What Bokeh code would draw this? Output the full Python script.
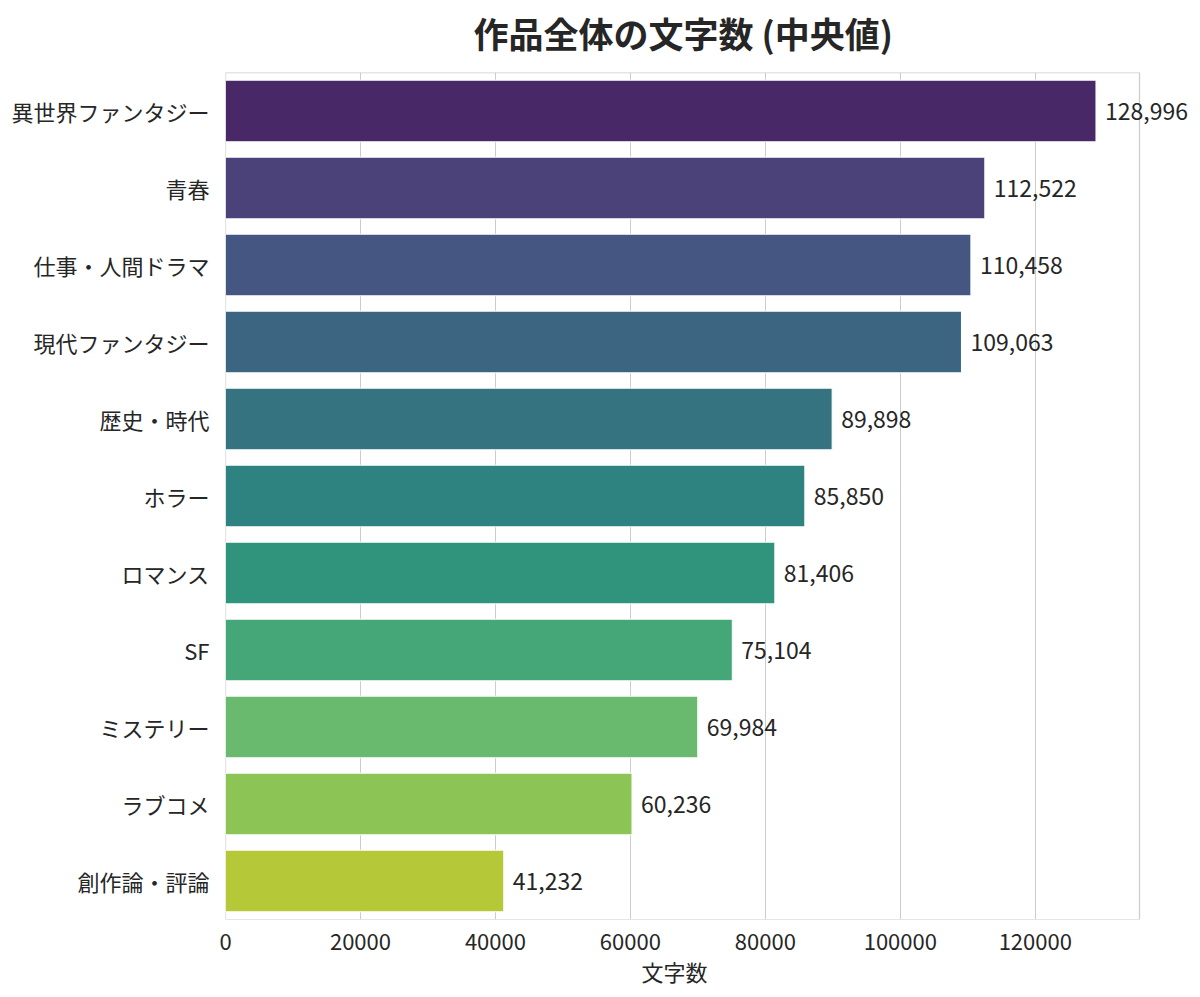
import colorsys

from bokeh.core.properties import value
from bokeh.embed import file_html
from bokeh.models import (BasicTickFormatter, BoxAnnotation, ColumnDataSource, FactorRange,
                          FixedTicker, Range1d, Title)
from bokeh.palettes import Viridis256
from bokeh.plotting import figure
from bokeh.resources import INLINE

genres = ["異世界ファンタジー", "青春", "仕事・人間ドラマ", "現代ファンタジー", "歴史・時代",
          "ホラー", "ロマンス", "SF", "ミステリー", "ラブコメ", "創作論・評論"]
median_chars = [128996, 112522, 110458, 109063, 89898, 85850, 81406, 75104, 69984, 60236, 41232]
x_ticks = [0, 20000, 40000, 60000, 80000, 100000, 120000]

FONT = "Noto Sans CJK JP"
TEXT = "#262626"
GRID = "#cccccc"

# axes box is 914px wide; the frame runs a bit further so the top label isn't clipped
BOX_W = 914
EXTRA_W = 54
X_END = max(median_chars) * 1.05


def desaturate(hexc, prop=0.75):
    r, g, b = [int(hexc[i:i + 2], 16) / 255 for i in (1, 3, 5)]
    h, l, s = colorsys.rgb_to_hls(r, g, b)
    r, g, b = colorsys.hls_to_rgb(h, l, s * prop)
    return "#%02x%02x%02x" % tuple(round(c * 255) for c in (r, g, b))


n = len(genres)
colors = [desaturate(Viridis256[round((i + 1) / (n + 1) * 255)]) for i in range(n)]

source = ColumnDataSource(dict(
    genre=genres,
    chars=median_chars,
    label=["{:,}".format(v) for v in median_chars],
    color=colors,
))

p = figure(frame_width=BOX_W + EXTRA_W, frame_height=847, output_backend="svg", toolbar_location=None,
           y_range=FactorRange(factors=list(reversed(genres))),
           x_range=Range1d(0, X_END * (BOX_W + EXTRA_W) / BOX_W),
           min_border_left=225, min_border_right=0, min_border_top=0, min_border_bottom=10)
# pull the canvas up a little so the title sits closer to the top edge
p.styles = {"margin-top": "-6px"}

p.add_layout(BoxAnnotation(left=0, right=X_END, fill_alpha=0, line_color=GRID,
                           line_alpha=1, line_width=1.25, level="underlay"))

p.hbar(y="genre", right="chars", height=0.8, source=source,
       fill_color="color", line_color="white", line_width=1)

p.text(x="chars", y="genre", text="label", source=source, x_offset=9,
       text_font=value(FONT), text_font_size="23px", text_color=TEXT,
       text_align="left", text_baseline="middle")

p.title.text = "作品全体の文字数 (中央値)"
p.title.text_font = FONT
p.title.text_font_size = "35px"
p.title.text_font_style = "bold"
p.title.text_color = TEXT
p.title.align = "left"
p.title.offset = 248
p.title.vertical_align = "top"
p.title.standoff = 25

p.outline_line_color = None

p.xaxis.ticker = FixedTicker(ticks=x_ticks)
p.xaxis.formatter = BasicTickFormatter(use_scientific=False)

for ax in (p.xaxis, p.yaxis):
    ax.axis_line_color = None
    ax.major_tick_line_color = None
    ax.minor_tick_line_color = None
    ax.major_label_text_font = FONT
    ax.major_label_text_font_size = "22px"
    ax.major_label_text_color = TEXT

p.xaxis.major_label_standoff = 8
p.yaxis.major_label_standoff = 10

# x label centred under the axes box rather than under the wider frame
p.add_layout(Title(text="文字数", align="left", offset=416, text_font=FONT,
                   text_font_size="22px", text_font_style="normal", text_color=TEXT,
                   standoff=0), "below")

p.xgrid.grid_line_color = GRID
p.ygrid.grid_line_color = None

open("out.html", "w").write(file_html(p, INLINE))
